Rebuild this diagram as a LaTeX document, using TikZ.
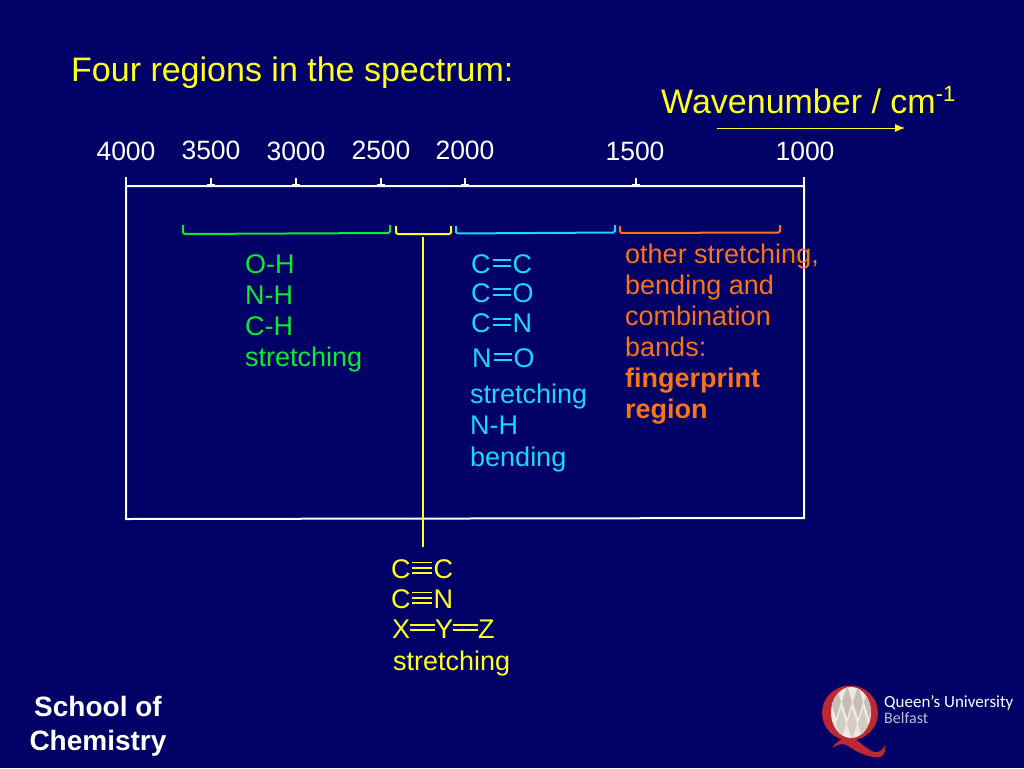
\documentclass[tikz,border=0pt]{standalone}
\usepackage{fontspec}
\usetikzlibrary{arrows.meta}
\setmainfont{Liberation Sans}
\newfontfamily\logofont{Carlito}
\definecolor{slidebg}{RGB}{0,0,102}
\definecolor{titleyellow}{RGB}{255,255,30}
\definecolor{bandgreen}{RGB}{10,235,50}
\definecolor{bandcyan}{RGB}{25,215,255}
\definecolor{bandorange}{RGB}{250,115,25}
\definecolor{qred}{RGB}{190,40,50}
\definecolor{qcream}{RGB}{240,232,222}
\newcommand{\dbond}[1][18pt]{\raisebox{7pt}{\rlap{\rule{#1}{1.8pt}}}\raisebox{12.5pt}{\rule{#1}{1.8pt}}}
\newcommand{\tbond}{\raisebox{4.5pt}{\rlap{\rule{20pt}{1.8pt}}}\raisebox{9.8pt}{\rlap{\rule{20pt}{1.8pt}}}\raisebox{15.1pt}{\rule{20pt}{1.8pt}}}
\tikzset{
  scalelabel/.style={text=white, font=\fontsize{26.5}{26.5}\selectfont, inner sep=0pt},
  bandtext/.style={font=\fontsize{27}{31}\selectfont, inner sep=0pt, anchor=base west},
  frameline/.style={draw=white, line width=2pt},
  bracketline/.style={line width=2pt, rounded corners=1.5pt},
}
\begin{document}
\begin{tikzpicture}[x=1pt, y=-1pt]
  \fill[slidebg] (0,0) rectangle (1024,768);
  \useasboundingbox (0,0) rectangle (1024,768);
  % Headings
  \node[titleyellow, bandtext, font=\fontsize{34}{34}\selectfont] (title) at (71,81.5) {Four regions in the spectrum:};
  \node[titleyellow, bandtext, font=\fontsize{34}{34}\selectfont] (wavenumber) at (661,113) {Wavenumber / cm\raisebox{12pt}{\fontsize{22}{22}\selectfont -1}};
  \coordinate (arrowstart) at (717,128);
  \coordinate (arrowend) at (905,128);
  \draw[titleyellow, line width=1pt, -{Latex[length=10pt,width=8pt]}] (arrowstart) -- (arrowend);
  % Scale labels
  \node[scalelabel] (w4000) at (126,151) {4000};
  \node[scalelabel] (w3500) at (211,150) {3500};
  \node[scalelabel] (w3000) at (296,151) {3000};
  \node[scalelabel] (w2500) at (381,150) {2500};
  \node[scalelabel] (w2000) at (465,150) {2000};
  \node[scalelabel] (w1500) at (635,151) {1500};
  \node[scalelabel] (w1000) at (805,151) {1000};
  % Frame
  \coordinate (tl) at (126,186);
  \coordinate (tr) at (804,186);
  \coordinate (bl) at (126,519);
  \coordinate (br) at (804,518);
  \draw[frameline] (tl) -- (tr) -- (br) -- (bl) -- cycle;
  \draw[frameline] (tl) -- ++(0,-9);
  \draw[frameline] (tr) -- ++(0,-9);
  % Ticks
  \foreach \tx in {211,296,381,465,636} {
    \draw[white, line width=1.5pt] (\tx,186) -- (\tx,178);
    \draw[white, line width=3pt] (\tx-4,185) -- (\tx+4,185);
  }
  % Band brackets
  \draw[bandgreen, bracketline] (183,225) -- (183,234) -- (390,233) -- (390,225);
  \draw[titleyellow, bracketline] (396,226) -- (396,234) -- (451,234) -- (451,226);
  \draw[bandcyan, bracketline] (456,226) -- (456,233.5) -- (615,232.5) -- (615,225);
  \draw[bandorange, bracketline] (620,226) -- (620,233) -- (780,232.5) -- (780,225);
  % Yellow pointer through the frame
  \coordinate (pointertop) at (423,237);
  \coordinate (pointerbot) at (423,547);
  \draw[titleyellow, line width=2pt] (pointertop) -- (pointerbot);
  % Green band
  \node[bandgreen, bandtext] (oh) at (245,273) {O-H};
  \node[bandgreen, bandtext] (nh) at (245,304) {N-H};
  \node[bandgreen, bandtext] (ch) at (245,335) {C-H};
  \node[bandgreen, bandtext] (strgreen) at (245,366) {stretching};
  % Cyan band
  \node[bandcyan, bandtext] (cc) at (471,273.5) {C\hspace{2pt}\dbond\hspace{2pt}C};
  \node[bandcyan, bandtext] (co) at (471,302.5) {C\hspace{2pt}\dbond\hspace{2pt}O};
  \node[bandcyan, bandtext] (cn) at (471,332.5) {C\hspace{2pt}\dbond\hspace{2pt}N};
  \node[bandcyan, bandtext] (no) at (472,367.5) {N\hspace{2pt}\dbond\hspace{2pt}O};
  \node[bandcyan, bandtext] (strcyan) at (470,403) {stretching};
  \node[bandcyan, bandtext] (nhb) at (470,434) {N-H};
  \node[bandcyan, bandtext] (bend) at (470,466) {bending};
  % Orange band
  \node[bandorange, bandtext] (other) at (625,263) {other stretching,};
  \node[bandorange, bandtext] (bendand) at (625,294) {bending and};
  \node[bandorange, bandtext] (comb) at (625,325) {combination};
  \node[bandorange, bandtext] (bands) at (625,356) {bands:};
  \node[bandorange, bandtext, font=\fontsize{27}{31}\selectfont\bfseries] (finger) at (625,387) {fingerprint};
  \node[bandorange, bandtext, font=\fontsize{27}{31}\selectfont\bfseries] (region) at (625,418) {region};
  % Yellow band
  \node[titleyellow, bandtext] (triplecc) at (391,578.5) {C\hspace{1.5pt}\tbond\hspace{1.5pt}C};
  \node[titleyellow, bandtext] (triplecn) at (391,608.5) {C\hspace{1.5pt}\tbond\hspace{1.5pt}N};
  \node[titleyellow, bandtext] (xyz) at (392,638) {X\dbond[25pt]Y\dbond[25pt]Z};
  \node[titleyellow, bandtext] (stryellow) at (393,670.5) {stretching};
  % School
  \node[white, align=center, inner sep=0pt, font=\fontsize{28}{34}\selectfont\bfseries] (school) at (98,726) {School of\\Chemistry};
  % Logo
  \fill[qred] (832,748) .. controls (835,744) and (838,741) .. (842,739)
    .. controls (846,737) and (850,737) .. (853,738)
    .. controls (858,740) and (862,745) .. (867,748)
    .. controls (871,751) and (875,753) .. (878,752)
    .. controls (881,751) and (884,748) .. (885,745)
    .. controls (886,751) and (884,756) .. (880,757)
    .. controls (872,758) and (865,755) .. (858,752)
    .. controls (852,749) and (848,745) .. (843,744)
    .. controls (839,744) and (835,746) .. (832,748) -- cycle;
  \fill[qred] (850,713) ellipse (28pt and 27.5pt);
  \fill[qcream] (851,712.5) ellipse (20pt and 25.5pt);
  \begin{scope}
    \clip (851,712.5) ellipse (20pt and 25.5pt);
    \foreach \qx in {836,847,858,869} {
      \fill[black!18!qcream] (\qx,686) -- (\qx+5,702) -- (\qx,718) -- (\qx-5,702) -- cycle;
      \fill[black!12!qcream] (\qx+5,708) -- (\qx+10,724) -- (\qx+5,740) -- (\qx,724) -- cycle;
    }
  \end{scope}
  \node[white, inner sep=0pt, anchor=base west, font=\logofont\fontsize{17}{17}\selectfont] (queens) at (884,707) {Queen’s University};
  \node[white!75!slidebg, inner sep=0pt, anchor=base west, font=\logofont\fontsize{16}{16}\selectfont] (belfast) at (884,723) {Belfast};
\end{tikzpicture}
\end{document}
